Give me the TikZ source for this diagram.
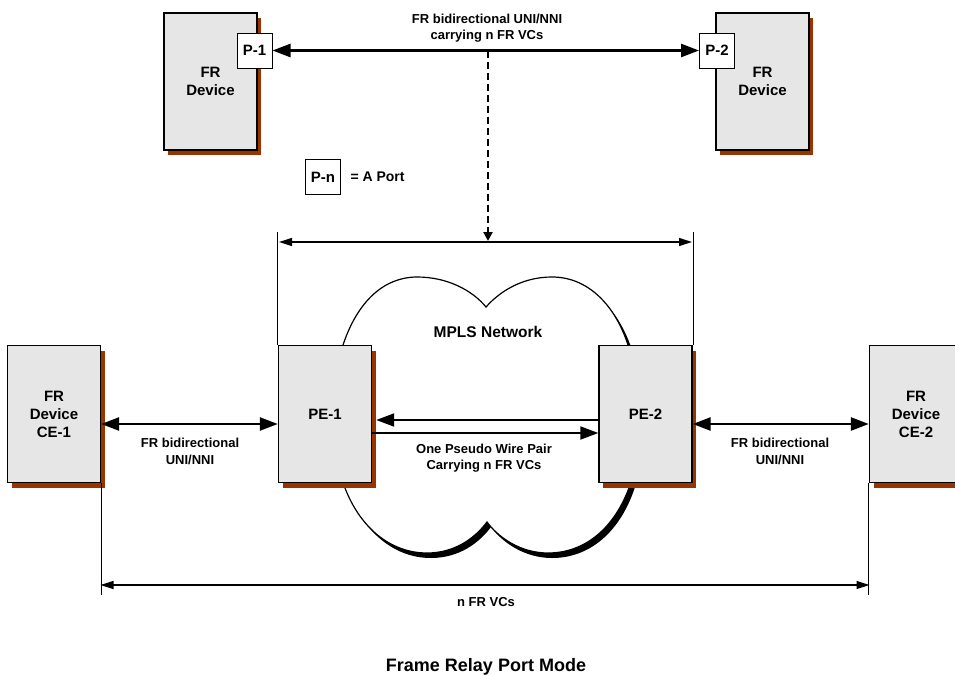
\documentclass[tikz,border=0pt]{standalone}
\usepackage{fontspec}
\setmainfont{Liberation Sans}
\usetikzlibrary{arrows.meta,positioning,shadows}
\definecolor{boxgray}{HTML}{E6E6E6}
\definecolor{shadowbrown}{HTML}{993300}
% outline of the MPLS cloud, in pixel-like units
\newcommand{\cloudoutline}{(343,345) .. controls (358,300) and (385,277) .. (417,277)
  .. controls (447,277) and (472,290) .. (486,307)
  .. controls (502,289) and (525,277) .. (552,277)
  .. controls (588,277) and (615,305) .. (628,345)
  .. controls (642,385) and (644,445) .. (630,485)
  .. controls (615,528) and (585,553) .. (548,553)
  .. controls (520,553) and (498,537) .. (487,522)
  .. controls (475,538) and (455,553) .. (427,553)
  .. controls (390,553) and (360,527) .. (345,488)
  .. controls (328,445) and (328,385) .. cycle}

\begin{document}
\begin{tikzpicture}[x=1pt,y=-1pt,
  devbox/.style={draw,line width=1.4pt,fill=boxgray,minimum width=93pt,minimum height=137pt,
    inner sep=0pt,align=center,font=\fontsize{15}{18}\selectfont\bfseries,
    drop shadow={shadow xshift=4pt,shadow yshift=-5pt,fill=shadowbrown,opacity=1}},
  portbox/.style={draw,line width=1pt,fill=white,minimum size=35pt,inner sep=0pt,
    font=\fontsize{15}{18}\selectfont\bfseries},
  lbl/.style={align=center,font=\fontsize{13}{16.5}\selectfont\bfseries},
  biarrow/.style={line width=2.6pt,{Triangle[length=18pt,width=13pt]}-{Triangle[length=18pt,width=13pt]}},
  onearrow/.style={line width=2pt,-{Triangle[length=18pt,width=13pt]}},
  dimline/.style={line width=1.2pt,{Triangle[length=13pt,width=8pt]}-{Triangle[length=13pt,width=8pt]}},
  extline/.style={line width=1.2pt},
  dashline/.style={line width=2.2pt,dash pattern=on 7pt off 4pt,-{Triangle[length=9pt,width=9pt]}}]
 \useasboundingbox (0,0) rectangle (955,675);

 % upper part: two FR devices with ports
 \node[devbox] (dev1) at (210.5,81.5) {FR\\Device};
 \node[devbox] (dev2) at (762.5,81.5) {FR\\Device};
 \node[portbox] (p1) at (254.5,50.5) {P-1};
 \node[portbox] (p2) at (717,50.5) {P-2};
 \draw[biarrow] (p1.east) -- (p2.west);
 \node[lbl] (toplbl) at (487,28) {FR bidirectional UNI/NNI\\carrying n FR VCs};
 \node[portbox] (pn) at (323,177) {P-n};
 \node[lbl,font=\fontsize{14}{17}\selectfont\bfseries,anchor=west] (pnlbl) at ([xshift=6pt]pn.east) {= A Port};

 % MPLS cloud with its shadow
 \begin{scope}[shift={(4,5)}]
  \fill[black] \cloudoutline;
 \end{scope}
 \draw[line width=1.2pt,fill=white] \cloudoutline;
 \node[lbl,font=\fontsize{15.5}{18}\selectfont\bfseries] (mpls) at (488,332) {MPLS Network};

 % lower part: CE and PE devices
 \node[devbox] (ce1) at (54,414) {FR\\Device\\CE-1};
 \node[devbox] (pe1) at (325,414) {PE-1};
 \node[devbox] (pe2) at (645.5,414) {PE-2};
 \node[devbox] (ce2) at (916,414) {FR\\Device\\CE-2};

 \draw[biarrow] ([yshift=-10pt]ce1.east) -- ([yshift=-10pt]pe1.west);
 \draw[biarrow] ([yshift=-10pt]pe2.east) -- ([yshift=-10pt]ce2.west);
 \draw[onearrow] ([yshift=-6pt]pe2.west) -- ([yshift=-6pt,xshift=4pt]pe1.east);
 \draw[onearrow] ([yshift=-19pt]pe1.east) -- ([yshift=-19pt]pe2.west);
 \node[lbl] (celbl1) at (190,451.5) {FR bidirectional\\UNI/NNI};
 \node[lbl] (celbl2) at (780,451.5) {FR bidirectional\\UNI/NNI};
 \node[lbl] (pwlbl) at (484,458) {One Pseudo Wire Pair\\Carrying n FR VCs};

 % dimension over the PE pair
 \coordinate (tap) at (488,50.5);
 \coordinate (dimtop) at (488,241);
 \draw[dashline] (tap) -- (dimtop);
 \draw[extline] (pe1.north west) -- ++(0,-113);
 \draw[extline] ([xshift=0.5pt]pe2.north east) -- ++(0,-113);
 \draw[dimline] (279,242) -- (692,242);

 % dimension between the CEs
 \draw[extline] (ce1.south east) -- ++(0,112);
 \draw[extline] (ce2.south west) -- ++(0,112);
 \draw[dimline] (100.5,585) -- (869.5,585);
 \node[lbl] (vclbl) at (486,602) {n FR VCs};

 \node[font=\fontsize{18}{21}\selectfont\bfseries] (title) at (486,667) {Frame Relay Port Mode};
\end{tikzpicture}
\end{document}
